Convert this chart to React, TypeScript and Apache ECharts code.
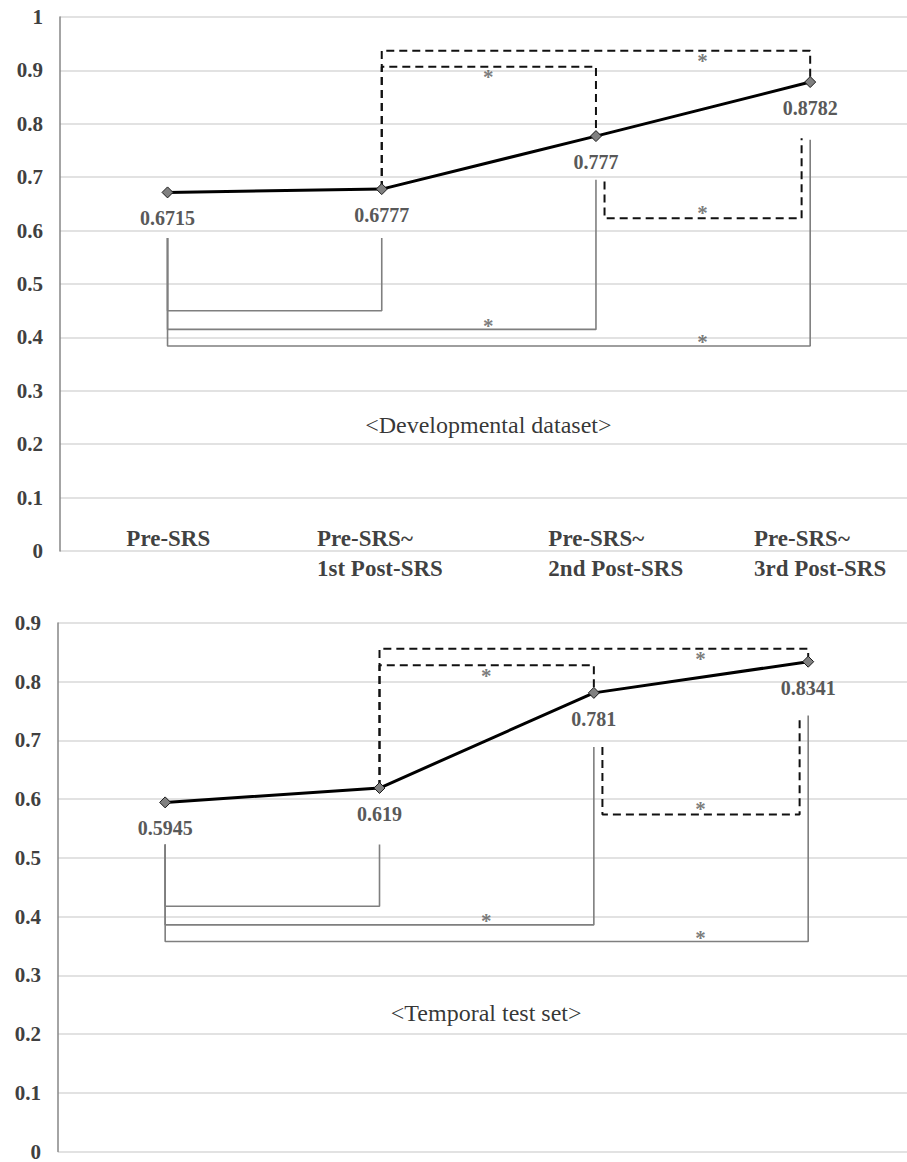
import React, { useEffect, useRef } from "react";
import * as echarts from "echarts";

// ---- data ----
const categories = [
  "Pre-SRS",
  "Pre-SRS~\n1st Post-SRS",
  "Pre-SRS~\n2nd Post-SRS",
  "Pre-SRS~\n3rd Post-SRS",
];
const devValues = [0.6715, 0.6777, 0.777, 0.8782];
const tempValues = [0.5945, 0.619, 0.781, 0.8341];
const devTitle = "<Developmental dataset>";
const tempTitle = "<Temporal test set>";
const devYMax = 1;
const tempYMax = 0.9;
const yInterval = 0.1;

// significance brackets (solid grey: vs Pre-SRS; dashed black: between post-SRS)
const devSolid = [
  { from: 0, to: 1, fromTop: 0.586, toTop: 0.586, level: 0.45, star: false },
  { from: 0, to: 2, fromTop: 0.586, toTop: 0.695, level: 0.415, star: true },
  { from: 0, to: 3, fromTop: 0.586, toTop: 0.77, level: 0.384, star: true },
];
const devDashed = [
  { from: 1, to: 2, fromEnd: 0.6777, toEnd: 0.777, level: 0.907, inset: false },
  { from: 1, to: 3, fromEnd: 0.6777, toEnd: 0.8782, level: 0.937, inset: false },
  { from: 2, to: 3, fromEnd: 0.692, toEnd: 0.773, level: 0.623, inset: true },
];
const tempSolid = [
  { from: 0, to: 1, fromTop: 0.523, toTop: 0.523, level: 0.4177, star: false },
  { from: 0, to: 2, fromTop: 0.523, toTop: 0.689, level: 0.386, star: true },
  { from: 0, to: 3, fromTop: 0.523, toTop: 0.7425, level: 0.3575, star: true },
];
const tempDashed = [
  { from: 1, to: 2, fromEnd: 0.619, toEnd: 0.781, level: 0.828, inset: false },
  { from: 1, to: 3, fromEnd: 0.619, toEnd: 0.8341, level: 0.856, inset: false },
  { from: 2, to: 3, fromEnd: 0.689, toEnd: 0.7425, level: 0.574, inset: true },
];

// ---- styling / layout constants ----
const SERIF = "'Liberation Serif', 'Times New Roman', serif";
const INSET = 0.04;
const CAT_NUDGE = [-0.19, -0.3, -0.22, -0.26];

type Solid = (typeof devSolid)[number];
type Dashed = (typeof devDashed)[number];

function buildGridSeries(
  g: number,
  values: number[],
  solid: Solid[],
  dashed: Dashed[],
  title: string,
  withCats: boolean
) {
  const series: any[] = [];
  solid.forEach((b) => {
    series.push({
      type: "line",
      xAxisIndex: g,
      yAxisIndex: g,
      data: [
        [b.from, b.fromTop],
        [b.from, b.level],
        [b.to, b.level],
        [b.to, b.toTop],
      ],
      symbol: "none",
      silent: true,
      z: 2,
      lineStyle: { color: "#7f7f7f", width: 1.6, type: "solid" },
    });
  });
  dashed.forEach((b) => {
    const fx = b.from + (b.inset ? INSET : 0);
    const tx = b.to - (b.inset ? INSET : 0);
    series.push({
      type: "line",
      xAxisIndex: g,
      yAxisIndex: g,
      data: [
        [fx, b.fromEnd],
        [fx, b.level],
        [tx, b.level],
        [tx, b.toEnd],
      ],
      symbol: "none",
      silent: true,
      z: 2,
      lineStyle: { color: "#111", width: 2, type: [8, 5] },
    });
  });
  // main line
  series.push({
    type: "line",
    xAxisIndex: g,
    yAxisIndex: g,
    data: values.map((v, i) => [i, v]),
    symbol: "diamond",
    symbolSize: 11,
    z: 5,
    lineStyle: { color: "#000", width: 3 },
    itemStyle: { color: "#808080", borderColor: "#1a1a1a", borderWidth: 1 },
    label: {
      show: true,
      position: "bottom",
      distance: 10,
      formatter: (p: any) => String(p.value[1]),
      fontFamily: SERIF,
      fontWeight: "bold",
      fontSize: 20,
      color: "#595959",
    },
  });
  // stars
  const stars: any[] = [];
  solid.forEach((b) => {
    if (b.star) stars.push({ value: [b.to - 0.5, b.level], label: { offset: [0, -3] } });
  });
  dashed.forEach((b) => {
    stars.push({
      value: [b.to - 0.5, b.level],
      label: { offset: [0, b.inset ? -5 : 11] },
    });
  });
  series.push({
    type: "scatter",
    xAxisIndex: g,
    yAxisIndex: g,
    symbolSize: 1,
    silent: true,
    z: 6,
    itemStyle: { color: "rgba(0,0,0,0)" },
    data: stars,
    label: {
      show: true,
      position: [0, 0],
      align: "center",
      verticalAlign: "middle",
      formatter: "*",
      fontFamily: SERIF,
      fontWeight: "bold",
      fontSize: 21,
      color: "#595959",
    },
  });
  // title and category labels
  const texts: any[] = [
    {
      value: [1.5, 0.235],
      label: {
        formatter: title,
        align: "center",
        verticalAlign: "middle",
        fontWeight: "normal",
        fontSize: 24,
        color: "#000",
      },
    },
  ];
  if (withCats) {
    categories.forEach((c, i) => {
      texts.push({
        value: [i + CAT_NUDGE[i], 0],
        label: {
          formatter: c,
          align: "left",
          verticalAlign: "top",
          offset: [0, -27],
          fontWeight: "bold",
          fontSize: 23,
          lineHeight: 30,
          color: "#0d0d0d",
        },
      });
    });
  }
  series.push({
    type: "scatter",
    xAxisIndex: g,
    yAxisIndex: g,
    symbolSize: 1,
    silent: true,
    z: 6,
    itemStyle: { color: "rgba(0,0,0,0)" },
    data: texts,
    label: { show: true, position: [0, 0], fontFamily: SERIF },
  });
  return series;
}

function yAxis(g: number, max: number) {
  return {
    type: "value",
    gridIndex: g,
    min: 0,
    max,
    interval: yInterval,
    axisLine: { show: true, onZero: false, lineStyle: { color: "#868686", width: 1.5 } },
    axisTick: { show: false },
    splitLine: { show: true, lineStyle: { color: "#d9d9d9", width: 1.5 } },
    axisLabel: {
      margin: 17,
      fontFamily: SERIF,
      fontWeight: "bold",
      fontSize: 21,
      color: "#404040",
    },
  };
}

function xAxis(g: number, min: number, max: number) {
  return {
    type: "value",
    gridIndex: g,
    min,
    max,
    axisLine: { show: false, onZero: false },
    axisTick: { show: false },
    axisLabel: { show: false },
    splitLine: { show: false },
  };
}

export default function App() {
  const ref = useRef<HTMLDivElement>(null);
  useEffect(() => {
    if (!ref.current) return;
    const chart = echarts.init(ref.current, undefined, { renderer: "svg" });
    chart.setOption({
      animation: false,
      backgroundColor: "#fff",
      grid: [
        { left: 60, right: 0, top: 17, bottom: 611 },
        { left: 58, right: 0, top: 623, bottom: 5 },
      ],
      xAxis: [xAxis(0, -0.502, 3.452), xAxis(1, -0.5, 3.461)],
      yAxis: [yAxis(0, devYMax), yAxis(1, tempYMax)],
      series: [
        ...buildGridSeries(0, devValues, devSolid, devDashed, devTitle, true),
        ...buildGridSeries(1, tempValues, tempSolid, tempDashed, tempTitle, false),
      ],
    });
    return () => chart.dispose();
  }, []);
  return (
    <div
      ref={ref}
      style={{ position: "absolute", left: 0, top: 0, width: 907, height: 1162 }}
    />
  );
}
